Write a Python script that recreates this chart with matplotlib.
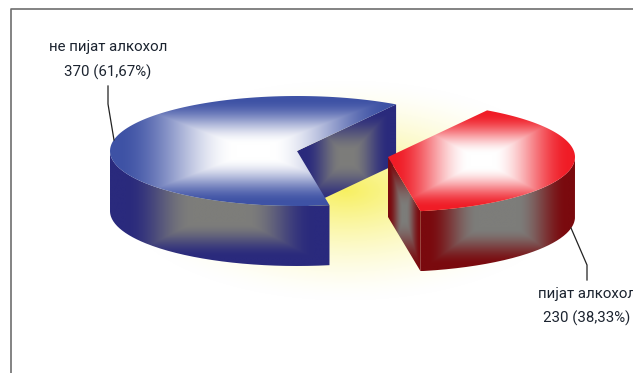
import matplotlib
matplotlib.use('Agg')
import matplotlib.pyplot as plt
import numpy as np
from matplotlib.path import Path
from matplotlib.patches import PathPatch

plt.rcParams['font.family'] = ['Roboto', 'Liberation Sans', 'DejaVu Sans']

# survey counts
labels = ['не пијат алкохол', 'пијат алкохол']
counts = [370, 230]
shares = ['61,67%', '38,33%']

# pie geometry in pixels
rx, ry = 187, 55
depth = 60
start_angle = -80
blue_c = (297, 151)
red_c = (388, 157)

blue_top = (62, 82, 165)
blue_side = (42, 42, 125)
red_top = (240, 28, 38)
red_side = (122, 10, 14)
white = (255, 255, 255)
gray = (125, 125, 122)

W, H = 633, 373
fig = plt.figure(figsize=(W / 100, H / 100), dpi=100)
ax = fig.add_axes([0, 0, 1, 1])
ax.set_axis_off()


def arc(c, a0, a1, dy=0):
    t = np.radians(np.linspace(a0, a1, 120))
    return np.column_stack([c[0] + rx * np.cos(t), c[1] - ry * np.sin(t) + dy])


def gradient_face(pts, inner, outer, lo=0.12, hi=0.95):
    # rectangular gradient over the bounding box, clipped to the face
    x0, y0 = pts.min(axis=0)
    x1, y1 = pts.max(axis=0)
    xx, yy = np.meshgrid(np.linspace(-1, 1, 300), np.linspace(-1, 1, 300))
    t = np.clip((np.maximum(np.abs(xx), np.abs(yy)) - lo) / (hi - lo), 0, 1)
    t = t * t * (3 - 2 * t)
    img = np.zeros(t.shape + (3,))
    for i in range(3):
        img[..., i] = (inner[i] + (outer[i] - inner[i]) * t) / 255
    im = ax.imshow(img, extent=[x0, x1, y1, y0], aspect='auto', interpolation='bilinear', zorder=2)
    patch = PathPatch(Path(np.vstack([pts, pts[:1]])), fc='none', ec='none', transform=ax.transData)
    ax.add_patch(patch)
    im.set_clip_path(patch)


# pale yellow glow behind the pie
xx, yy = np.meshgrid(np.arange(W), np.arange(H))
d = np.sqrt(((xx - 345) / 230.0) ** 2 + ((yy - 190) / 110.0) ** 2)
g = np.clip(1 - d, 0, 1) ** 1.5
bg = np.ones((H, W, 3))
bg[..., 2] = 1 - g * 0.62
bg[..., 1] = 1 - g * 0.06
bg[..., 0] = 1 - g * 0.03
ax.imshow(bg, extent=[0, W, H, 0], aspect='auto', zorder=0)

red_sweep = 360 * counts[1] / sum(counts)
a_split = start_angle + red_sweep
a_end = start_angle + 360

# blue slice: cut face, outer wall, top
e = arc(blue_c, a_split, a_split)[0]
gradient_face(np.array([blue_c, e, e + [0, depth], np.array(blue_c) + [0, depth]], dtype=float), gray, blue_side, 0.1, 0.85)
top = arc(blue_c, 180, a_end)
gradient_face(np.vstack([top, top[::-1] + [0, depth]]), gray, blue_side, 0.25, 0.85)
gradient_face(np.vstack([[blue_c], arc(blue_c, a_split, a_end)]), white, blue_top)

# red slice: cut face, outer wall, top
e = arc(red_c, start_angle, start_angle)[0]
gradient_face(np.array([red_c, e, e + [0, depth], np.array(red_c) + [0, depth]], dtype=float), gray, red_side, 0.1, 0.95)
top = arc(red_c, start_angle, 0)
gradient_face(np.vstack([top, top[::-1] + [0, depth]]), gray, red_side, 0.25, 0.9)
gradient_face(np.vstack([[red_c], arc(red_c, start_angle, a_split)]), white, red_top)

# frame, open to the right and bottom
ax.plot([11, 11, W], [H, 8.5, 8.5], color='#6e6e6e', lw=1.2, zorder=3)

# leader lines
ax.plot([108, 108, 114], [86, 104, 140], color='#222222', lw=0.9, zorder=3)
ax.plot([571, 587, 587], [228, 265, 280], color='#222222', lw=0.9, zorder=3)

# slice labels
ax.text(108, 47, labels[0], ha='center', va='center', fontsize=10.8, color='#1c2430', zorder=4)
ax.text(108, 72, '%d (%s)' % (counts[0], shares[0]), ha='center', va='center', fontsize=10.8, color='#1c2430', zorder=4)
ax.text(587, 294, labels[1], ha='center', va='center', fontsize=10.8, color='#1c2430', zorder=4)
ax.text(587, 318, '%d (%s)' % (counts[1], shares[1]), ha='center', va='center', fontsize=10.8, color='#1c2430', zorder=4)

ax.set_xlim(0, W)
ax.set_ylim(H, 0)
fig.savefig('out.png', dpi=100)
